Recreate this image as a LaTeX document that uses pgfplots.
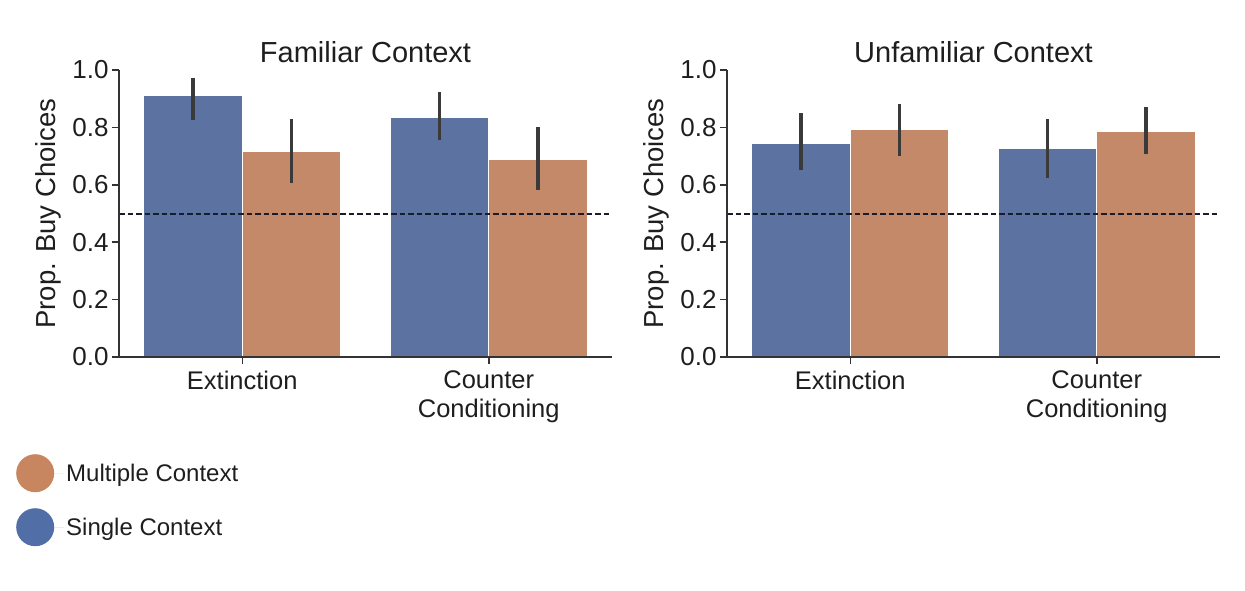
\documentclass[border=0pt]{standalone}
\usepackage{fontspec}
\setmainfont{Liberation Sans}
\usepackage{pgfplots}
\pgfplotsset{compat=1.18}
\definecolor{sblue}{RGB}{92,114,160}
\definecolor{sorange}{RGB}{195,137,104}
\definecolor{lblue}{RGB}{82,110,166}
\definecolor{lorange}{RGB}{200,134,96}
\definecolor{axgray}{RGB}{51,51,51}
\definecolor{errgray}{RGB}{58,58,58}
\definecolor{txt}{RGB}{30,30,30}
\pgfplotsset{
  myaxis/.style={
    scale only axis, width=493pt, height=287pt,
    xmin=-0.5, xmax=1.5, ymin=0, ymax=1,
    axis x line*=bottom, axis y line*=left, axis on top,
    axis line style={axgray, line width=1.5pt},
    tick align=outside, major tick length=7pt,
    tick style={axgray, line width=1.5pt},
    xtick={0,1}, xticklabels={Extinction, Counter\\Conditioning},
    ytick={0,0.2,0.4,0.6,0.8,1.0},
    /pgf/number format/assume math mode=true,
    /pgf/number format/fixed, /pgf/number format/fixed zerofill, /pgf/number format/precision=1,
    yticklabel style={font=\fontsize{26}{29}\selectfont, text=txt},
    xticklabel style={font=\fontsize{25.5}{29}\selectfont, text=txt, align=center, yshift=-3.5pt},
    ylabel={Prop. Buy Choices},
    every axis y label/.style={at={(axis description cs:-0.143,0.5)}, rotate=90, anchor=center, font=\fontsize{27.5}{30}\selectfont, text=txt},
    title style={at={(axis description cs:0.5,1)}, anchor=base, yshift=2pt, font=\fontsize{29}{32}\selectfont, text=txt},
    clip=false,
  },
  ebar/.style={ybar, bar width=0.4, bar shift=0, draw=white, line width=1.2pt,
    error bars/.cd, y dir=both, y explicit, error mark=none,
    error bar style={line width=3.5pt, errgray}, /pgfplots/.cd},
  chance/.style={line width=2pt, color={rgb,255:red,25;green,28;blue,45}, dash pattern=on 5.5pt off 3pt},
}
\begin{document}
\begin{tikzpicture}
\useasboundingbox (0,0) rectangle (1245pt,-590pt);
% Familiar Context
\begin{axis}[myaxis, at={(119pt,-357pt)}, anchor=south west, title={Familiar Context}]
\addplot[fill=sblue, ebar] coordinates {(-0.2,0.910) += (0,0.062) -= (0,0.084) (0.8,0.836) += (0,0.087) -= (0,0.080)};
\addplot[fill=sorange, ebar] coordinates {(0.2,0.715) += (0,0.114) -= (0,0.109) (1.2,0.690) += (0,0.111) -= (0,0.108)};
\addplot[chance] coordinates {(-0.5,0.5) (1.5,0.5)};
\end{axis}
% Unfamiliar Context
\begin{axis}[myaxis, at={(727pt,-357pt)}, anchor=south west, title={Unfamiliar Context}]
\addplot[fill=sblue, ebar] coordinates {(-0.2,0.746) += (0,0.104) -= (0,0.094) (0.8,0.728) += (0,0.101) -= (0,0.104)};
\addplot[fill=sorange, ebar] coordinates {(0.2,0.794) += (0,0.088) -= (0,0.094) (1.2,0.787) += (0,0.084) -= (0,0.080)};
\addplot[chance] coordinates {(-0.5,0.5) (1.5,0.5)};
\end{axis}
% Legend
\begin{axis}[hide axis, scale only axis, width=100pt, height=100pt, at={(16pt,-454pt)}, anchor=north west,
  xmin=0, xmax=1, ymin=0, ymax=1,
  legend style={at={(0,1)}, anchor=north west, draw=none, fill=none, inner sep=0pt,
    font=\fontsize{24}{27}\selectfont, text=txt, row sep=16pt, legend cell align=left},
  legend image code/.code={\path (0pt,0pt) rectangle (48pt,0pt); \fill[#1] (19pt,0pt) circle (19pt);}]
\addlegendimage{fill=lorange, draw=none}
\addlegendentry{Multiple Context}
\addlegendimage{fill=lblue, draw=none}
\addlegendentry{Single Context}
\end{axis}
\end{tikzpicture}
\end{document}
